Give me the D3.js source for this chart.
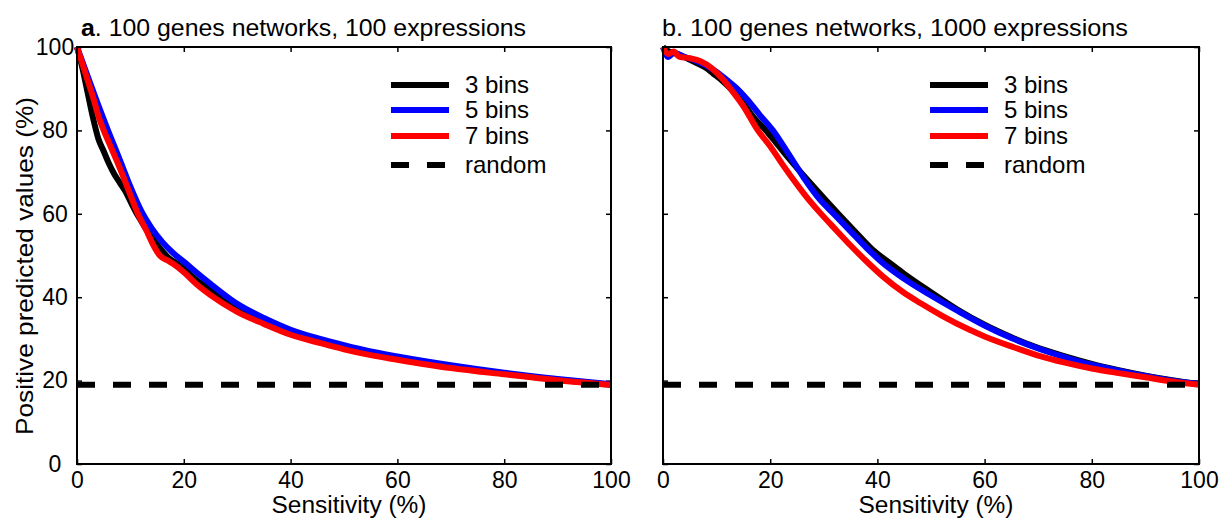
<!DOCTYPE html>
<html><head><meta charset="utf-8">
<script src="https://cdn.jsdelivr.net/npm/d3@7"></script>
<style>
body{margin:0;background:#fff;}
svg text{font-family:"Liberation Sans",Arial,Helvetica,sans-serif;fill:#000;}
</style></head>
<body><svg id="chart" width="1229" height="520"></svg>
<script>
// ---- data ----
const xTicks = [0, 20, 40, 60, 80, 100];
const yTicks = [0, 20, 40, 60, 80, 100];
const seriesNames = ["3 bins", "5 bins", "7 bins"];
const seriesColors = ["#000000", "#0000ff", "#ff0000"];
const randomLevel = 19;
const titleA = ["a", ". 100 genes networks, 100 expressions"];
const titleB = ["", "b. 100 genes networks, 1000 expressions"];
const xLabel = "Sensitivity (%)";
const yLabel = "Positive predicted values (%)";

// panel a: [sensitivity, ppv]
const a3 = [[0,100],[1,95],[2,89],[3,83],[4,78],[5,75],[6,72],[7,69.5],[8,67.5],[9,65.5],[10,63],[11,60.5],[12,58.3],[14,54.3],[16,51],[17,49.6],[19,47.8],[20,46.8],[22.5,44],[25,41.8],[30,37.3],[35,34.2],[40,31.6],[45,29.7],[50,28],[55,26.6],[60,25.4],[70,23.4],[80,21.7],[90,20.2],[100,19]];
const a5 = [[0,100],[1,96.5],[2,93],[3,89.5],[4,86],[5.8,80],[8,73],[10,66.5],[12.1,60.5],[14,56.5],[16,53.2],[18,50.6],[20.5,48],[22.5,45.8],[25,43.2],[30,38.4],[35,35],[40,32.2],[45,30.2],[50,28.5],[55,27],[60,25.8],[70,23.7],[80,21.9],[90,20.4],[100,19.1]];
const a7 = [[0,100],[1,96],[2,92],[3,88],[4,83.5],[5,80],[6,77],[8,71],[10,64.5],[11.4,60],[13,56],[14.5,52],[15.5,50],[17,48.8],[18,48],[20,46],[22.5,43],[25,40.5],[30,36.5],[35,33.6],[40,31],[45,29.2],[50,27.5],[55,26.1],[60,25],[70,23],[80,21.5],[90,20.1],[100,19]];

// panel b
const b3 = [[0,100],[1,99],[2,98.6],[4,97.6],[6,96.3],[8,95],[9.3,93.7],[11,92],[13,89.5],[15,86.5],[17,83],[19.2,80],[21,77.2],[23,74],[25,71],[27.4,67.5],[30,63.8],[33,59.6],[36,55.5],[39,51.5],[42.3,48.2],[45,45.6],[50,41.2],[55,37],[60,33.4],[65,30.4],[69.2,28.2],[75,25.8],[80,24],[85,22.5],[90,21.2],[95,20.1],[100,19.2]];
const b5 = [[0,100],[1,97.6],[2,98.6],[4,97.6],[6,96.8],[8,95.6],[10,94],[12,92],[14,89.8],[16,87],[18,83.8],[20.5,80],[23,75.2],[25,71.2],[26.6,68],[29,63.8],[32,59.8],[35,55.8],[38,51.8],[41,48.2],[45,44.4],[50,40.4],[55,36.7],[60,33.2],[65,30.2],[70,27.7],[75,25.6],[80,23.8],[85,22.4],[90,21.1],[95,20],[100,19.2]];
const b7 = [[0,100],[1,98.3],[2,98.9],[3,97.7],[5,97.3],[7,96.6],[9,95],[11,92.5],[13,89.3],[15,85.8],[17.7,80],[20,76.2],[22,72.4],[24.2,68.4],[26.5,64.5],[29.2,60.4],[32,56.5],[35,52.4],[37.8,48.8],[41,45],[44.7,41.3],[48,38.6],[52,35.6],[57,32.3],[60,30.6],[65,28.2],[70,26],[75,24.3],[80,22.9],[85,21.8],[90,20.8],[95,19.8],[100,19]];

const panels = [
  {left:77, right:611, title:titleA, series:[a3,a5,a7], yLabels:true, legendX:391},
  {left:663, right:1199, title:titleB, series:[b3,b5,b7], yLabels:false, legendX:930}
];
const plotTop = 47, plotBottom = 464;
const legendRows = [85, 110, 136, 165];

const svg = d3.select("#chart");

panels.forEach(p => {
  const x = d3.scaleLinear().domain([0,100]).range([p.left, p.right]);
  const y = d3.scaleLinear().domain([0,100]).range([plotBottom, plotTop]);
  const g = svg.append("g");

  const xb = d3.axisBottom(x).tickValues(xTicks).tickSize(-5).tickPadding(8).tickFormat(d3.format("d"));
  const xt = d3.axisTop(x).tickValues(xTicks).tickSize(-5).tickFormat("");
  const yl = d3.axisLeft(y).tickValues(yTicks).tickSize(-5).tickPadding(16).tickFormat(p.yLabels ? d3.format("d") : "");
  const yr = d3.axisRight(y).tickValues(yTicks).tickSize(-5).tickFormat("");

  const gxb = g.append("g").attr("transform",`translate(0,${plotBottom})`).call(xb);
  g.append("g").attr("transform",`translate(0,${plotTop})`).call(xt);
  const gyl = g.append("g").attr("transform",`translate(${p.left},0)`).call(yl);
  g.append("g").attr("transform",`translate(${p.right},0)`).call(yr);
  g.selectAll(".domain").remove();
  g.selectAll(".tick line").attr("stroke","#000").attr("stroke-width",1.5);
  gxb.selectAll("text").attr("font-size",23).attr("font-family","Liberation Sans, Arial, sans-serif");
  gyl.selectAll("text").attr("font-size",23).attr("font-family","Liberation Sans, Arial, sans-serif")
     .attr("text-anchor","middle").attr("x",-22);

  const ln = d3.line().x(d => x(d[0])).y(d => y(d[1])).curve(d3.curveMonotoneX);
  p.series.forEach((s,i) => {
    g.append("path").datum(s).attr("d", ln).attr("fill","none")
     .attr("stroke", seriesColors[i]).attr("stroke-width",6)
     .attr("stroke-linejoin","round").attr("stroke-linecap","butt");
  });
  g.append("line").attr("x1",x(0)).attr("x2",x(100)).attr("y1",y(randomLevel)).attr("y2",y(randomLevel))
   .attr("stroke","#000").attr("stroke-width",6).attr("stroke-dasharray","18,18");

  g.append("rect").attr("x",p.left).attr("y",plotTop).attr("width",p.right-p.left).attr("height",plotBottom-plotTop)
   .attr("fill","none").attr("stroke","#000").attr("stroke-width",2);

  const t = g.append("text").attr("x", p.left + (p.title[0] ? 4 : -1)).attr("y",36).attr("font-size",24);
  if (p.title[0]) t.append("tspan").attr("font-weight","bold").text(p.title[0]);
  t.append("tspan").text(p.title[1]);
  t.attr("textLength", p.title[0] ? 445 : 466).attr("lengthAdjust","spacingAndGlyphs");

  g.append("text").attr("x",(p.left+p.right)/2+5).attr("y",513).attr("text-anchor","middle")
   .attr("font-size",23).attr("textLength",155).attr("lengthAdjust","spacingAndGlyphs").text(xLabel);

  const lx = p.legendX;
  seriesNames.forEach((n,i) => {
    g.append("line").attr("x1",lx).attr("x2",lx+58).attr("y1",legendRows[i]).attr("y2",legendRows[i])
     .attr("stroke",seriesColors[i]).attr("stroke-width",6);
    g.append("text").attr("x",lx+74).attr("y",legendRows[i]+8).attr("font-size",24).text(n);
  });
  g.append("line").attr("x1",lx).attr("x2",lx+58).attr("y1",legendRows[3]).attr("y2",legendRows[3])
   .attr("stroke","#000").attr("stroke-width",6).attr("stroke-dasharray","18,18");
  g.append("text").attr("x",lx+74).attr("y",legendRows[3]+8).attr("font-size",24).text("random");
});

svg.append("text").attr("transform","translate(33,266) rotate(-90)").attr("text-anchor","middle")
  .attr("font-size",24).attr("textLength",338).attr("lengthAdjust","spacingAndGlyphs").text(yLabel);
</script>
</body></html>
